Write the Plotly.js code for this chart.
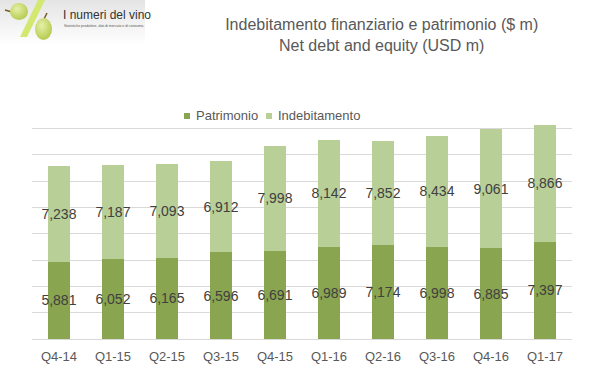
<!DOCTYPE html>
<html>
<head>
<meta charset="utf-8">
<script src="https://cdn.plot.ly/plotly-3.0.1.min.js"></script>
<style>html,body{margin:0;padding:0;background:#fff;}#chart{width:590px;height:373px;}</style>
</head>
<body>
<div id="chart"></div>
<script>
var quarters = ["Q4-14","Q1-15","Q2-15","Q3-15","Q4-15","Q1-16","Q2-16","Q3-16","Q4-16","Q1-17"];
var patrimonio = [5881,6052,6165,6596,6691,6989,7174,6998,6885,7397];
var indebitamento = [7238,7187,7093,6912,7998,8142,7852,8434,9061,8866];
var seriesNames = ["Patrimonio","Indebitamento"];
var seriesColors = ["#8aa54f","#b8cf98"];
var titleText = "Indebitamento finanziario e patrimonio ($ m)<br>Net debt and equity (USD m)";
var logoTitle = "I numeri del vino";
var logoSub = "Statistiche produttive, dati di mercato e di consumo,";

var W = 590, H = 373;
var M = {l:32, r:18, t:102, b:34};
var PW = W - M.l - M.r, PH = H - M.t - M.b;
function px(x){ return (x - M.l) / PW; }
function py(y){ return (H - M.b - y) / PH; }

var fmt = function(v){ return v.toLocaleString('en-US'); };
var FONT = 'Liberation Sans, Arial, sans-serif';

var common = {
  type: 'bar', x: quarters, textposition: 'inside', insidetextanchor: 'middle',
  constraintext: 'none', textangle: 0, cliponaxis: false, hoverinfo: 'skip',
  insidetextfont: {family: FONT, size: 14, color: '#404040'}, showlegend: false
};
var t1 = Object.assign({}, common, {name: seriesNames[0], y: patrimonio, text: patrimonio.map(fmt), marker: {color: seriesColors[0]}});
var t2 = Object.assign({}, common, {name: seriesNames[1], y: indebitamento, text: indebitamento.map(fmt), marker: {color: seriesColors[1]}});

var logoSvg = '<svg xmlns="http://www.w3.org/2000/svg" width="145" height="45" viewBox="0 0 145 45">' +
 '<defs><linearGradient id="g" x1="0" y1="0" x2="0" y2="1"><stop offset="0" stop-color="#e4e4e4"/><stop offset="1" stop-color="#ffffff"/></linearGradient>' +
 '<radialGradient id="r" cx="0.4" cy="0.35" r="0.7"><stop offset="0" stop-color="#e6f0a8"/><stop offset="1" stop-color="#b2c94a"/></radialGradient></defs>' +
 '<rect width="145" height="45" fill="url(#g)"/>' +
 '<line x1="5" y1="10" x2="12" y2="12" stroke="#7a5a2a" stroke-width="1.5"/>' +
 '<ellipse cx="19" cy="11.5" rx="9" ry="8.5" fill="url(#r)"/>' +
 '<polygon points="38,0 45,0 27,37 20,37" fill="#d3e870"/>' +
 '<line x1="47" y1="13" x2="44" y2="19" stroke="#7a5a2a" stroke-width="1.5"/>' +
 '<ellipse cx="43.5" cy="29" rx="8.5" ry="11" fill="url(#r)"/>' +
 '</svg>';

// legend drawn as small squares + labels
var legendSq = [184, 266];
var legendTx = [193.5, 275.5];
var legendY = 116;
var shapes = [], annotations = [];
seriesNames.forEach(function(n, i){
  shapes.push({type: 'rect', xref: 'paper', yref: 'paper',
    x0: px(legendSq[i]), x1: px(legendSq[i] + 6), y0: py(legendY + 3), y1: py(legendY - 3),
    fillcolor: seriesColors[i], line: {width: 0}});
  annotations.push({text: n, xref: 'paper', yref: 'paper', x: px(legendTx[i]), y: py(legendY),
    xanchor: 'left', yanchor: 'middle', showarrow: false,
    font: {family: FONT, size: 13, color: '#595959'}});
});
annotations.push({text: logoTitle, xref: 'paper', yref: 'paper', x: px(61), y: py(15), xanchor: 'left', yanchor: 'middle',
  showarrow: false, font: {family: FONT, size: 12, color: '#333333'}});
annotations.push({text: logoSub, xref: 'paper', yref: 'paper', x: px(62), y: py(26), xanchor: 'left', yanchor: 'middle',
  showarrow: false, font: {family: FONT, size: 3.5, color: '#555555'}});

var layout = {
  width: W, height: H, margin: M,
  paper_bgcolor: '#ffffff', plot_bgcolor: '#ffffff',
  font: {family: FONT, color: '#595959'},
  barmode: 'stack', bargap: 0.6,
  title: {text: titleText, font: {family: FONT, size: 16, color: '#595959'},
          xref: 'container', yref: 'container', x: 381.7/W, xanchor: 'center', y: 1 - 30/H, yanchor: 'top'},
  showlegend: false,
  xaxis: {showgrid: false, showline: false, zeroline: false, ticks: '', ticklabelstandoff: 8,
          tickfont: {family: FONT, size: 13, color: '#595959'}, fixedrange: true},
  yaxis: {range: [0, 18000], dtick: 2000, showticklabels: false, showgrid: true,
          gridcolor: '#d9d9d9', gridwidth: 1, zeroline: true, zerolinecolor: '#d9d9d9', zerolinewidth: 1, fixedrange: true},
  images: [{source: 'data:image/svg+xml;charset=utf-8,' + encodeURIComponent(logoSvg),
            xref: 'paper', yref: 'paper', x: px(0), y: py(0), sizex: 145/PW, sizey: 45/PH,
            xanchor: 'left', yanchor: 'top', sizing: 'stretch', layer: 'below'}],
  shapes: shapes,
  annotations: annotations
};

Plotly.newPlot('chart', [t1, t2], layout, {displayModeBar: false, staticPlot: true});
</script>
</body>
</html>
